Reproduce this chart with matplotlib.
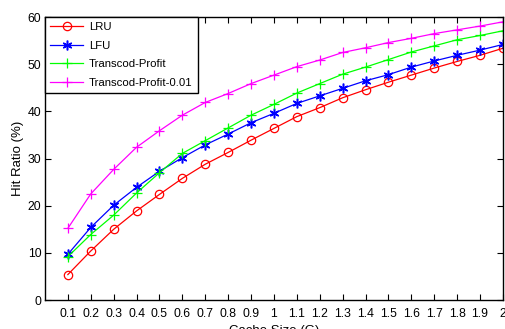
import numpy as np
import matplotlib
matplotlib.use('Agg')
from matplotlib import pyplot as plt

plt.rcParams['font.family'] = ['Liberation Sans', 'DejaVu Sans']

cache_size = [0.1, 0.2, 0.3, 0.4, 0.5, 0.6, 0.7, 0.8, 0.9, 1.0,
              1.1, 1.2, 1.3, 1.4, 1.5, 1.6, 1.7, 1.8, 1.9, 2.0]
tick_labels = ['0.1', '0.2', '0.3', '0.4', '0.5', '0.6', '0.7', '0.8', '0.9', '1',
               '1.1', '1.2', '1.3', '1.4', '1.5', '1.6', '1.7', '1.8', '1.9', '2']

lru = [5.4, 10.4, 15.0, 18.9, 22.4, 25.8, 28.8, 31.3, 33.9, 36.4,
       38.9, 40.8, 42.9, 44.6, 46.2, 47.7, 49.2, 50.6, 51.9, 53.4]
lfu = [9.7, 15.4, 20.1, 23.9, 27.3, 30.2, 32.9, 35.2, 37.6, 39.6,
       41.7, 43.3, 44.9, 46.5, 47.8, 49.4, 50.7, 51.9, 53.0, 54.2]
transcod = [9.2, 13.9, 18.0, 22.7, 27.0, 31.1, 33.8, 36.5, 39.2, 41.5,
            43.9, 45.9, 47.9, 49.4, 51.0, 52.6, 53.9, 55.2, 56.1, 57.1]
transcod_001 = [15.2, 22.5, 27.7, 32.4, 35.9, 39.2, 41.9, 43.8, 45.9, 47.7,
                49.5, 50.9, 52.5, 53.5, 54.6, 55.5, 56.5, 57.3, 58.1, 59.0]

fig = plt.figure(figsize=(5.05, 3.29), dpi=100)
ax = fig.add_axes([0.089, 0.088, 0.907, 0.86])

# matlab style '*' = asterisk
asterisk = (6, 2, 0)
ax.plot(cache_size, lru, color='#ff0000', marker='o', mfc='none', ms=6, mew=0.9, lw=0.9, label='LRU')
ax.plot(cache_size, lfu, color='#0000ff', marker=asterisk, ms=7, mew=1.1, lw=0.9, label='LFU')
ax.plot(cache_size, transcod, color='#00ff00', marker='+', ms=7, mew=0.9, lw=0.9, label='Transcod-Profit')
ax.plot(cache_size, transcod_001, color='#ff00ff', marker='+', ms=7, mew=0.9, lw=0.9, label='Transcod-Profit-0.01')

ax.set_xlim(0, 2)
ax.set_ylim(0, 60)
ax.set_xticks(cache_size)
ax.set_xticklabels(tick_labels)
ax.set_yticks(range(0, 61, 10))
ax.tick_params(direction='in', top=True, right=True, labelsize=8.8, length=4, width=0.8)
ax.tick_params(axis='x', pad=6)
ax.tick_params(axis='y', pad=2.5)
for s in ax.spines.values():
    s.set_linewidth(1.0)

ax.set_xlabel('Cache Size (G)', fontsize=9.5, labelpad=3)
ax.set_ylabel('Hit Ratio (%)', fontsize=9.5, labelpad=3)

leg = ax.legend(loc='upper left', fontsize=8.2, fancybox=False, framealpha=1,
                edgecolor='black', borderaxespad=0, handlelength=2.9,
                handletextpad=0.5, borderpad=0.45, labelspacing=0.75)
leg.get_frame().set_linewidth(1.0)

fig.savefig('out.png', dpi=100)
